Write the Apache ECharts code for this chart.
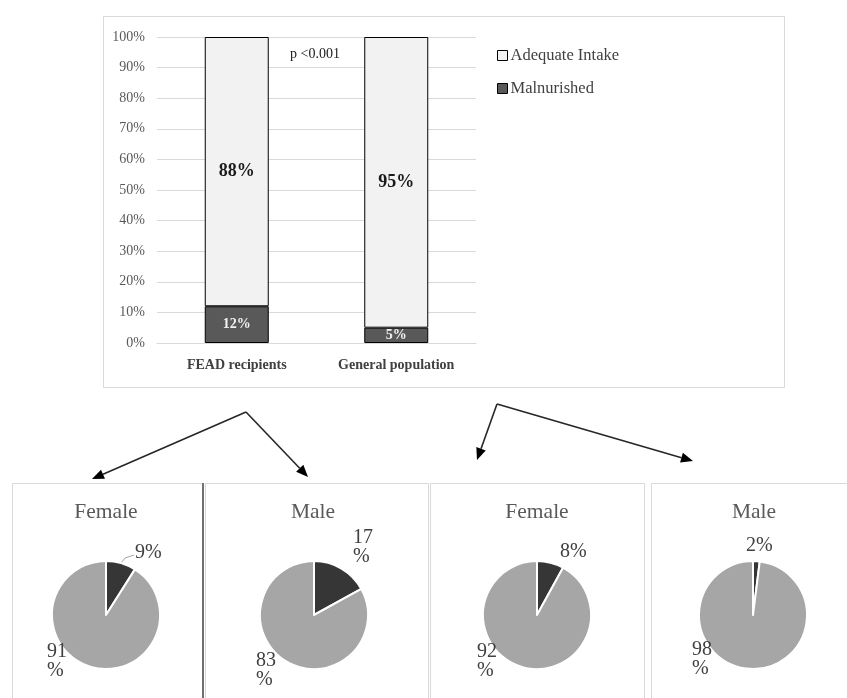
<!DOCTYPE html>
<html>
<head>
<meta charset="utf-8">
<script src="https://cdn.jsdelivr.net/npm/echarts@6/dist/echarts.min.js"></script>
<style>
html,body{margin:0;padding:0;background:#fff;}
#c{width:847px;height:698px;}
</style>
</head>
<body>
<div id="c"></div>
<script>
// ---- data ----
var categories = ['FEAD recipients', 'General population'];
var malnurished = [12, 5];
var adequate = [88, 95];
var yTicks = [0, 10, 20, 30, 40, 50, 60, 70, 80, 90, 100];
var pieTitles = ['Female', 'Male', 'Female', 'Male'];
var pieMalnurished = [9, 17, 8, 2];
var pieAdequate = [91, 83, 92, 98];
var pValueText = 'p <0.001';

// ---- layout / style ----
var FONT = 'Liberation Serif';
var pieCenters = [[106, 615], [314, 615], [537, 615], [753, 615]];
var pieLabelPos = [
  [[135, 553], [47, 661]],
  [[353, 547], [256, 670]],
  [[560, 552], [477, 661]],
  [[746, 546], [692, 659]]
];

function labelText(v) {
  var s = String(v);
  return s.length > 1 ? s + '\n%' : s + '%';
}

var chart = echarts.init(document.getElementById('c'));

var series = [
  {
    name: 'Malnurished', type: 'bar', stack: 'a', barWidth: 64,
    data: malnurished,
    itemStyle: {color: '#595959', borderColor: '#000', borderWidth: 1},
    label: {show: true, position: 'inside', formatter: '{c}%', fontFamily: FONT,
      fontWeight: 'bold', fontSize: 14, color: '#f2f2f2'}
  },
  {
    name: 'Adequate Intake', type: 'bar', stack: 'a', barWidth: 64,
    data: adequate,
    itemStyle: {color: '#f2f2f2', borderColor: '#000', borderWidth: 1},
    label: {show: true, position: 'inside', formatter: '{c}%', fontFamily: FONT,
      fontWeight: 'bold', fontSize: 18, color: '#1a1a1a'}
  }
];

pieTitles.forEach(function (t, i) {
  var lp = pieLabelPos[i];
  series.push({
    type: 'pie',
    center: pieCenters[i],
    radius: 54,
    startAngle: 90,
    clockwise: true,
    animation: false,
    silent: true,
    itemStyle: {borderColor: '#fff', borderWidth: 2},
    label: {show: true, position: 'outside', fontFamily: FONT, fontSize: 20,
      lineHeight: 19, color: '#404040', align: 'left',
      formatter: function (p) { return labelText(p.value); }},
    labelLine: {show: false},
    data: [
      {value: pieMalnurished[i], name: 'Malnurished', itemStyle: {color: '#363636'},
        labelLine: {show: i === 0, lineStyle: {color: '#a6a6a6', width: 1}}},
      {value: pieAdequate[i], name: 'Adequate Intake', itemStyle: {color: '#a6a6a6'}}
    ],
    labelLayout: function (params) {
      var pos = lp[params.dataIndex];
      var out = {x: pos[0], y: pos[1], align: 'left', verticalAlign: 'middle'};
      if (i === 0 && params.dataIndex === 0) {
        out.labelLinePoints = [[121, 563], [125, 558], [134, 555]];
      }
      return out;
    }
  });
});

// graphics: boxes, titles, arrows, p-value
var graphics = [];
function rect(x, y, w, h, stroke, lw) {
  graphics.push({type: 'rect', z: -10, silent: true,
    shape: {x: x, y: y, width: w, height: h},
    style: {fill: null, stroke: stroke, lineWidth: lw || 1}});
}
rect(103.5, 16.5, 681, 371, '#d9d9d9');
rect(12.5, 483.5, 191, 240, '#d9d9d9');
rect(205.5, 483.5, 223, 240, '#d9d9d9');
rect(430.5, 483.5, 214, 240, '#d9d9d9');
rect(651.5, 483.5, 230, 240, '#d9d9d9');
graphics.push({type: 'line', z: -5, silent: true,
  shape: {x1: 203, y1: 483, x2: 203, y2: 700},
  style: {stroke: '#707070', lineWidth: 2}});

var titleX = [106, 313, 537, 754];
pieTitles.forEach(function (t, i) {
  graphics.push({type: 'text', silent: true, x: titleX[i], y: 512,
    style: {text: t, fontFamily: FONT, fontSize: 21.5, fill: '#595959',
      align: 'center', verticalAlign: 'middle'}});
});

graphics.push({type: 'text', silent: true, x: 290, y: 54,
  style: {text: pValueText, fontFamily: FONT, fontSize: 14, fill: '#1a1a1a',
    align: 'left', verticalAlign: 'middle'}});

function arrow(x1, y1, x2, y2) {
  var dx = x2 - x1, dy = y2 - y1, L = Math.sqrt(dx * dx + dy * dy);
  var ux = dx / L, uy = dy / L;
  var hl = 12, hw = 5;
  var bx = x2 - ux * hl, by = y2 - uy * hl;
  graphics.push({type: 'line', silent: true,
    shape: {x1: x1, y1: y1, x2: bx, y2: by},
    style: {stroke: '#262626', lineWidth: 1.6}});
  graphics.push({type: 'polygon', silent: true,
    shape: {points: [[x2, y2], [bx - uy * hw, by + ux * hw], [bx + uy * hw, by - ux * hw]]},
    style: {fill: '#000'}});
}
arrow(246, 412, 92, 479);
arrow(246, 412, 308, 477);
arrow(497, 404, 477, 460);
arrow(497, 404, 693, 461);

chart.setOption({
  animation: false,
  backgroundColor: '#fff',
  textStyle: {fontFamily: FONT},
  grid: {left: 157, right: 371, top: 37, bottom: 355, containLabel: false},
  legend: {
    orient: 'vertical', left: 492, top: 42,
    data: ['Adequate Intake', 'Malnurished'],
    itemWidth: 10, itemHeight: 10, itemGap: 16, icon: 'rect',
    itemStyle: {borderWidth: 1},
    textStyle: {fontFamily: FONT, fontSize: 16.5, color: '#404040', padding: [0, 0, 0, -2]},
    selectedMode: false
  },
  xAxis: {
    type: 'category', data: categories,
    axisLine: {lineStyle: {color: '#d9d9d9'}},
    axisTick: {show: false},
    axisLabel: {fontFamily: FONT, fontWeight: 'bold', fontSize: 14, color: '#404040', margin: 15}
  },
  yAxis: {
    type: 'value', min: yTicks[0], max: yTicks[yTicks.length - 1], interval: yTicks[1] - yTicks[0],
    axisLine: {show: false}, axisTick: {show: false},
    splitLine: {lineStyle: {color: '#d9d9d9'}},
    axisLabel: {formatter: '{value}%', fontFamily: FONT, fontSize: 14, color: '#595959', margin: 12}
  },
  graphic: graphics,
  series: series
});
</script>
</body>
</html>
